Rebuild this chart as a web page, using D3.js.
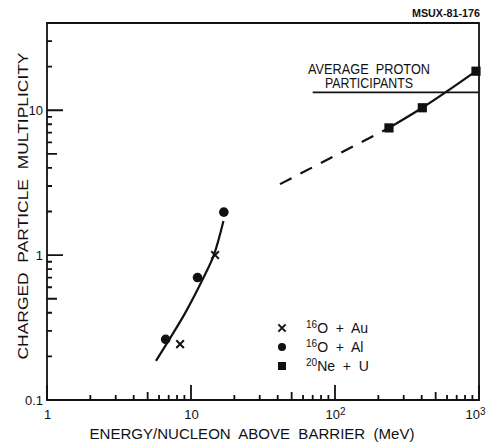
<html>
<head>
  <script src="https://d3js.org/d3.v7.min.js"></script>
  <style>
    body { margin: 0; background: #fff; }
    text { font-family: 'Liberation Sans', Arial, sans-serif; fill: #111; }
    .labels .domain, .labels line { stroke: none; }
  </style>
</head>
<body>
<svg id="chart" width="487" height="443"></svg>
<script>
  // data (energy in MeV/nucleon, multiplicity)
  const auEnergy = [8.4, 14.7];
  const auMult = [0.243, 1.0];
  const alEnergy = [6.67, 11.1, 16.9];
  const alMult = [0.262, 0.70, 1.98];
  const neEnergy = [237, 404, 953];
  const neMult = [7.55, 10.4, 18.6];

  // hand-drawn fit through the low energy points
  const lowFitEnergy = [5.71, 7.07, 9.08, 12.2, 14.4, 16.8];
  const lowFitMult = [0.186, 0.262, 0.396, 0.697, 1.0, 1.72];
  // dashed extrapolation, then solid line through the Ne + U points
  const dashEnergy = [41.5, 237];
  const dashMult = [3.09, 7.55];
  const protonLevel = 13.3;
  const protonRange = [70, 1000];

  const xMajor = [1, 10, 100, 1000];
  const xFives = [5, 50, 500];
  const xMinor = [2, 3, 4, 6, 7, 8, 9, 20, 30, 40, 60, 70, 80, 90, 200, 300, 400, 600, 700, 800, 900];
  const yMajor = [0.1, 1, 10];
  const yFives = [0.5, 5];
  const yMinor = [0.2, 0.3, 0.4, 0.6, 0.7, 0.8, 0.9, 2, 3, 4, 6, 7, 8, 9, 20, 30];

  const legendLabels = [["16", "O + Au"], ["16", "O + Al"], ["20", "Ne + U"]];

  let svg = d3.select("svg#chart");
  const x = d3.scaleLog().domain([1, 1000]).range([47, 479]);
  const y = d3.scaleLog().domain([0.1, 40]).range([400, 23]);

  // frame
  svg.append("path")
    .attr("d", `M${x(1)},${y(40)}H${x(1000)}V${y(0.1)}H${x(1)}Z`)
    .attr("fill", "none").attr("stroke", "#111").attr("stroke-width", 1.8);

  // inward tick marks, one path per tick length
  const yTicks = (vals, len) => {
    svg.append("path")
      .attr("d", vals.map(d => `M${x(1)},${y(d)}h${len}`).join(""))
      .attr("fill", "none").attr("stroke", "#111").attr("stroke-width", 1.8);
  };
  yTicks(yMinor, 5);
  yTicks(yFives, 10);
  yTicks(yMajor, 16);

  const xTicks = (vals, len) => {
    svg.append("path")
      .attr("d", vals.map(d => `M${x(d)},${y(0.1)}v${-len}`).join(""))
      .attr("fill", "none").attr("stroke", "#111").attr("stroke-width", 1.8);
  };
  xTicks(xMinor, 5);
  xTicks(xFives, 8);
  xTicks(xMajor, 15);

  // tick labels
  svg.append("g").attr("class", "labels")
    .attr("transform", `translate(${x(1)},0)`)
    .call(d3.axisLeft(y).tickValues(yMajor).tickSize(0).tickPadding(4)
      .tickFormat(d => d < 1 ? "0.1" : String(d)))
    .selectAll("text").style("font-size", "13px");

  svg.append("g").attr("class", "labels")
    .attr("transform", `translate(0,${y(0.1)})`)
    .call(d3.axisBottom(x).tickValues(xMajor).tickSize(0).tickPadding(10)
      .tickFormat(d => d <= 10 ? String(d) : "10"))
    .selectAll("text").style("font-size", "13px")
    .each(function (d) {
      if (d > 10) {
        d3.select(this).append("tspan").attr("dy", "-0.45em")
          .style("font-size", "10px").text(d == 100 ? "2" : "3");
      }
      if (d == 1000) d3.select(this).attr("dx", -4);
    });

  // curves
  svg.append("path")
    .attr("d", d3.line().x(d => x(d[0])).y(d => y(d[1])).curve(d3.curveCatmullRom)(d3.zip(lowFitEnergy, lowFitMult)))
    .attr("fill", "none").attr("stroke", "#111").attr("stroke-width", 2.2);
  svg.append("path")
    .attr("d", d3.line().x(d => x(d[0])).y(d => y(d[1]))(d3.zip(dashEnergy, dashMult)))
    .attr("fill", "none").attr("stroke", "#111").attr("stroke-width", 2.2)
    .attr("stroke-dasharray", "13,10");
  svg.append("path")
    .attr("d", d3.line().x(d => x(d[0])).y(d => y(d[1])).curve(d3.curveMonotoneX)(d3.zip(neEnergy, neMult)))
    .attr("fill", "none").attr("stroke", "#111").attr("stroke-width", 2.2);

  // average proton participants
  svg.append("line")
    .attr("x1", x(protonRange[0])).attr("x2", x(protonRange[1]))
    .attr("y1", y(protonLevel)).attr("y2", y(protonLevel))
    .attr("stroke", "#111").attr("stroke-width", 1.8);
  svg.append("text").attr("x", 308).attr("y", 74)
    .style("font-size", "14px").style("white-space", "pre")
    .attr("textLength", 122).attr("lengthAdjust", "spacingAndGlyphs")
    .text("AVERAGE  PROTON");
  svg.append("text").attr("x", 325).attr("y", 88)
    .style("font-size", "14px")
    .attr("textLength", 88).attr("lengthAdjust", "spacingAndGlyphs")
    .text("PARTICIPANTS");

  // markers
  const drawX = (cx, cy, s) => {
    svg.append("path")
      .attr("d", `M${cx - s},${cy - s}L${cx + s},${cy + s}M${cx - s},${cy + s}L${cx + s},${cy - s}`)
      .attr("stroke", "#111").attr("stroke-width", 2);
  };
  auEnergy.forEach((d, i) => drawX(x(d), y(auMult[i]), 3.8));
  alEnergy.forEach((d, i) => {
    svg.append("circle").attr("cx", x(d)).attr("cy", y(alMult[i])).attr("r", 4.8).attr("fill", "#111");
  });
  neEnergy.forEach((d, i) => {
    svg.append("rect").attr("x", x(d) - 4.6).attr("y", y(neMult[i]) - 4.6)
      .attr("width", 9.2).attr("height", 9.2).attr("fill", "#111");
  });

  // legend
  const legY = [328, 347, 366];
  drawX(282, legY[0], 3.6);
  svg.append("circle").attr("cx", 282).attr("cy", legY[1]).attr("r", 4).attr("fill", "#111");
  svg.append("rect").attr("x", 278).attr("y", legY[2] - 4).attr("width", 8).attr("height", 8).attr("fill", "#111");
  legendLabels.forEach((l, i) => {
    let t = svg.append("text").attr("x", 306).attr("y", legY[i] + 5).style("font-size", "14px");
    t.append("tspan").style("font-size", "10px").attr("dy", "-5").text(l[0]);
    t.append("tspan").attr("dy", "5").style("white-space", "pre").text(l[1].replace(" + ", "  +  "));
  });

  // axis titles
  svg.append("text")
    .attr("x", 252).attr("y", 439)
    .attr("text-anchor", "middle")
    .style("font-size", "15px").style("white-space", "pre")
    .attr("textLength", 325).attr("lengthAdjust", "spacingAndGlyphs")
    .text("ENERGY/NUCLEON  ABOVE  BARRIER  (MeV)");
  svg.append("text")
    .attr("transform", "rotate(-90)")
    .attr("x", -206).attr("y", 28)
    .attr("text-anchor", "middle")
    .style("font-size", "15px").style("white-space", "pre")
    .attr("textLength", 307).attr("lengthAdjust", "spacingAndGlyphs")
    .text("CHARGED  PARTICLE  MULTIPLICITY");

  svg.append("text").attr("x", 412).attr("y", 17)
    .style("font-size", "10px").style("font-weight", "bold")
    .attr("textLength", 68).attr("lengthAdjust", "spacingAndGlyphs")
    .text("MSUX-81-176");
</script>
</body>
</html>
